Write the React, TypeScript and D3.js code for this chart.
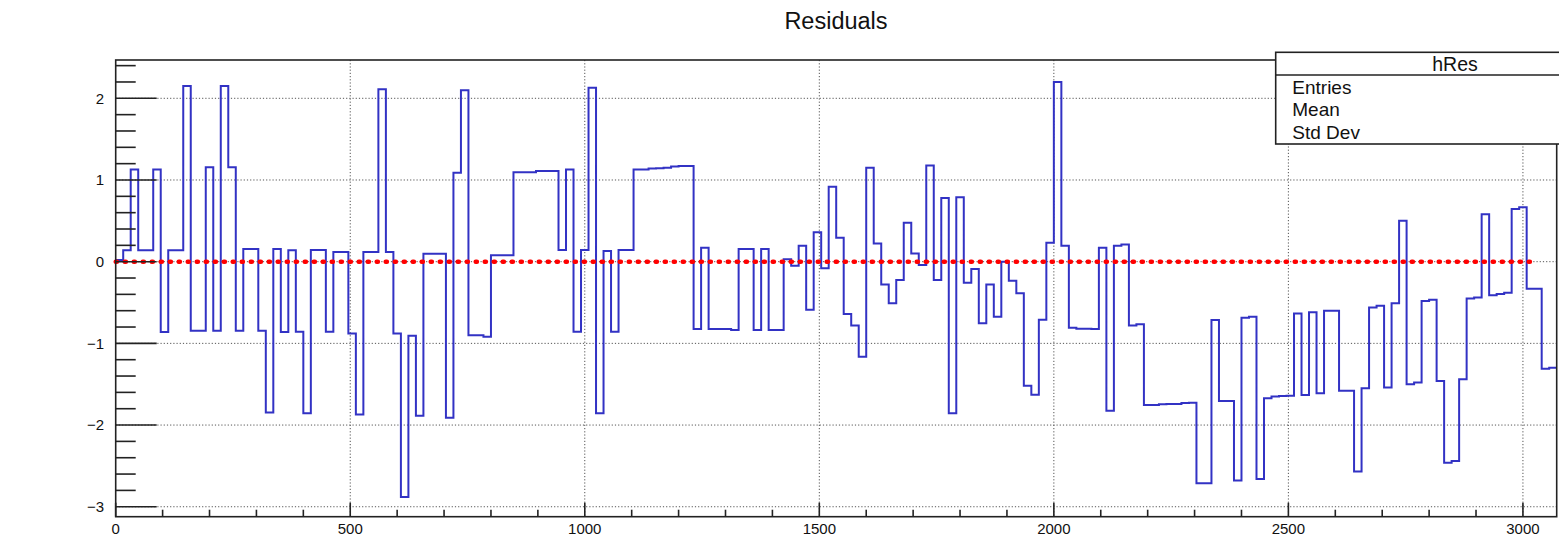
import React from "react";
import * as d3 from "d3";

// ---------------- data ----------------
const title = "Residuals";
const statsName = "hRes";
const statsLabels = ["Entries", "Mean", "Std Dev"];
const binWidth = 16;
const xMin = 0;
const xMax = 3072;
const yMin = -3.122;
const yMax = 2.469;
const xTicks = [0, 500, 1000, 1500, 2000, 2500, 3000];
const yTicks = [-3, -2, -1, 0, 1, 2];
const fitRange = [0, 3030];
const fitValue = 0;

const binValues = [
  0.02, 0.14, 1.13, 0.14, 0.14, 1.13, -0.86, 0.14, 0.14, 2.15,
  -0.845, -0.845, 1.155, -0.845, 2.15, 1.155, -0.845, 0.155, 0.155, -0.845,
  -1.845, 0.155, -0.86, 0.14, -0.857, -1.857, 0.143, 0.143, -0.857, 0.12,
  0.12, -0.88, -1.87, 0.12, 0.12, 2.11, 0.12, -0.88, -2.88, -0.906,
  -1.886, 0.098, 0.098, 0.098, -1.91, 1.09, 2.1, -0.9, -0.9, -0.92,
  0.08, 0.08, 0.08, 1.094, 1.094, 1.094, 1.11, 1.11, 1.11, 0.143,
  1.13, -0.857, 0.143, 2.13, -1.857, 0.13, -0.857, 0.143, 0.143, 1.13,
  1.13, 1.14, 1.145, 1.15, 1.165, 1.17, 1.17, -0.824, 0.171, -0.824,
  -0.824, -0.824, -0.837, 0.155, 0.155, -0.837, 0.155, -0.837, -0.837, 0.03,
  -0.05, 0.196, -0.59, 0.36, -0.08, 0.918, 0.294, -0.64, -0.78, -1.163,
  1.151, 0.224, -0.278, -0.51, -0.224, 0.478, 0.1, -0.04, 1.176, -0.224,
  0.78, -1.857, 0.79, -0.257, -0.09, -0.755, -0.278, -0.673, 0.0, -0.233,
  -0.388, -1.52, -1.63, -0.71, 0.233, 2.2, 0.196, -0.808, -0.82, -0.82,
  -0.824, 0.171, -1.824, 0.196, 0.21, -0.78, -0.767, -1.755, -1.755, -1.745,
  -1.743, -1.743, -1.73, -1.727, -2.714, -2.714, -0.714, -1.706, -1.706, -2.68,
  -0.686, -0.673, -2.66, -1.673, -1.65, -1.645, -1.64, -0.633, -1.633, -0.62,
  -1.612, -0.6, -0.6, -1.58, -1.58, -2.57, -1.55, -0.56, -0.54, -1.54,
  -0.51, 0.5, -1.5, -1.48, -0.48, -0.465, -1.46, -2.46, -2.44, -1.44,
  -0.45, -0.44, 0.58, -0.41, -0.395, -0.38, 0.645, 0.665, -0.33, -0.33,
  -1.31, -1.3,
];

// ---------------- layout ----------------
const W = 1559;
const H = 539;
const L = 115.7;
const R = 1556.7;
const T = 60;
const B = 516.7;
const FONT = "'Liberation Sans', Arial, Helvetica, sans-serif";

export default function App() {
  const x = d3.scaleLinear().domain([xMin, xMax]).range([L, R]);
  const y = d3.scaleLinear().domain([yMin, yMax]).range([B, T]);

  const pts: [number, number][] = binValues.map((v, i) => [xMin + i * binWidth, v]);
  pts.push([xMin + binValues.length * binWidth, binValues[binValues.length - 1]]);
  const stepLine = d3
    .line<[number, number]>()
    .x((d) => x(d[0]))
    .y((d) => y(d[1]))
    .curve(d3.curveStepAfter);

  const yMinor = d3
    .range(-20, 20)
    .map((k) => k * 0.2)
    .filter((v) => v >= yMin && v <= yMax && Math.abs(v - Math.round(v)) > 1e-6);
  const xMinor = d3
    .range(0, 31)
    .map((k) => k * 100)
    .filter((v) => v % 500 !== 0);

  const majorY = 41;
  const minorY = 20;
  const majorX = 14;
  const minorX = 7;

  return (
    <svg
      width={W}
      height={H}
      style={{ position: "absolute", left: 0, top: 0, background: "#fff" }}
      fontFamily={FONT}
    >
      <rect x={0} y={0} width={W} height={H} fill="#fff" />
      {/* grid */}
      {xTicks.filter((t) => t > 0).map((t) => (
        <line key={"gx" + t} x1={x(t)} x2={x(t)} y1={T} y2={B} stroke="#555" strokeWidth={1} strokeDasharray="1.2,2" />
      ))}
      {yTicks.map((t) => (
        <line key={"gy" + t} x1={L} x2={R} y1={y(t)} y2={y(t)} stroke="#555" strokeWidth={1} strokeDasharray="1.2,2" />
      ))}

      {/* histogram */}
      <path d={stepLine(pts) || ""} fill="none" stroke="#3232c4" strokeWidth={2} />

      {/* fit line */}
      <line
        x1={x(fitRange[0])}
        x2={x(fitRange[1])}
        y1={y(fitValue)}
        y2={y(fitValue)}
        stroke="#ff0000"
        strokeWidth={4.5}
        strokeDasharray="1.2,7.8"
        strokeLinecap="round"
      />

      {/* frame */}
      <rect x={L} y={T} width={R - L} height={B - T} fill="none" stroke="#222" strokeWidth={1.6} />

      {/* y ticks */}
      {yTicks.map((t) => (
        <line key={"ty" + t} x1={L} x2={L + majorY} y1={y(t)} y2={y(t)} stroke="#222" strokeWidth={1.6} />
      ))}
      {yMinor.map((t) => (
        <line key={"tym" + t} x1={L} x2={L + minorY} y1={y(t)} y2={y(t)} stroke="#222" strokeWidth={1.6} />
      ))}
      {yTicks.map((t) => (
        <text key={"ly" + t} x={104} y={y(t) + 5.3} fontSize={15} textAnchor="end" fill="#111">
          {t < 0 ? "\u2212" + Math.abs(t) : String(t)}
        </text>
      ))}

      {/* x ticks */}
      {xTicks.map((t) => (
        <line key={"tx" + t} x1={x(t)} x2={x(t)} y1={B} y2={B - majorX} stroke="#222" strokeWidth={1.6} />
      ))}
      {xMinor.map((t) => (
        <line key={"txm" + t} x1={x(t)} x2={x(t)} y1={B} y2={B - minorX} stroke="#222" strokeWidth={1.6} />
      ))}
      {xTicks.map((t) => (
        <text key={"lx" + t} x={x(t)} y={533.5} fontSize={15} textAnchor="middle" fill="#111">
          {String(t)}
        </text>
      ))}

      {/* title */}
      <text x={836} y={28.5} fontSize={23.5} textAnchor="middle" fill="#111">
        {title}
      </text>

      {/* stats box */}
      <rect x={1275.7} y={52.3} width={400} height={91.7} fill="#fff" stroke="#222" strokeWidth={1.6} />
      <line x1={1275.7} x2={1680} y1={75} y2={75} stroke="#222" strokeWidth={1.6} />
      <text x={1455} y={70.5} fontSize={19.5} textAnchor="middle" fill="#111">
        {statsName}
      </text>
      {statsLabels.map((s, i) => (
        <text key={s} x={1292.3} y={93.5 + i * 22.7} fontSize={19} fill="#111">
          {s}
        </text>
      ))}
    </svg>
  );
}
